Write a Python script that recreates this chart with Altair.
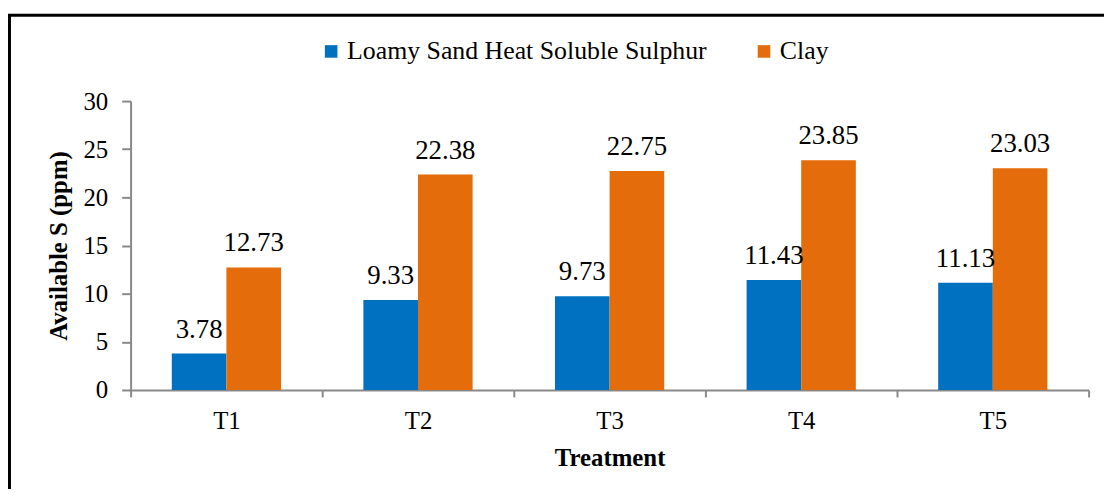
import altair as alt
import pandas as pd

treatments = ["T1", "T2", "T3", "T4", "T5"]
series_names = ["Loamy Sand Heat Soluble Sulphur", "Clay"]
loamy_sand = [3.78, 9.33, 9.73, 11.43, 11.13]
clay = [12.73, 22.38, 22.75, 23.85, 23.03]
colors = ["#0070C0", "#E46C0A"]

rows = []
for i, t in enumerate(treatments):
    rows.append({"Treatment": t, "Series": series_names[0], "Value": loamy_sand[i]})
    rows.append({"Treatment": t, "Series": series_names[1], "Value": clay[i]})
df = pd.DataFrame(rows)

FONT = "Liberation Serif, Times New Roman, serif"

x_enc = alt.X(
    "Treatment:N",
    sort=treatments,
    scale=alt.Scale(paddingInner=0, paddingOuter=0),
    axis=alt.Axis(
        title="Treatment",
        labelAngle=0,
        tickBand="extent",
        tickSize=7,
        labelPadding=12,
        titlePadding=12,
        titleFontWeight="bold",
    ),
)
xoff_enc = alt.XOffset(
    "Series:N",
    sort=series_names,
    scale=alt.Scale(paddingInner=0, paddingOuter=0.754),
)
y_enc = alt.Y(
    "Value:Q",
    scale=alt.Scale(domain=[0, 30], nice=False),
    axis=alt.Axis(
        title="Available S (ppm)",
        values=[0, 5, 10, 15, 20, 25, 30],
        tickSize=9,
        labelPadding=14,
        titlePadding=12,
        titleFontWeight="bold",
        grid=False,
    ),
)

bars = alt.Chart(df).mark_bar().encode(
    x=x_enc,
    xOffset=xoff_enc,
    y=y_enc,
    color=alt.Color(
        "Series:N",
        sort=series_names,
        scale=alt.Scale(domain=series_names, range=colors),
        legend=alt.Legend(
            title=None,
            orient="none",
            direction="horizontal",
            legendX=189,
            legendY=-63,
            symbolType="square",
            symbolSize=160,
            symbolStrokeWidth=0,
            labelFontSize=26,
            labelFont=FONT,
            labelColor="#000000",
            labelOffset=3,
            labelLimit=0,
            columnPadding=44,
        ),
    ),
)

labels = alt.Chart(df).mark_text(
    baseline="alphabetic", dy=-16, fontSize=27, font=FONT, color="#000000"
).encode(
    x=alt.X("Treatment:N", sort=treatments),
    xOffset=alt.XOffset("Series:N", sort=series_names),
    y=alt.Y("Value:Q"),
    text=alt.Text("Value:Q", format=".2f"),
)

border = alt.Chart(alt.Data(values=[{}])).mark_rect(
    fill=None, stroke="#000000", strokeWidth=3
).encode(
    x=alt.value(-122),
    x2=alt.value(1000),
    y=alt.value(-86.5),
    y2=alt.value(420),
)

chart = (
    alt.layer(border, bars, labels)
    .properties(
        width=965,
        height=291,
        autosize=alt.AutoSizeParams(type="none"),
        padding={"left": 123.5, "top": 92, "right": 15.5, "bottom": 98},
    )
    .configure(font=FONT)
    .configure_view(stroke=None)
    .configure_text(font=FONT)
    .configure_legend(labelFont=FONT)
    .configure_axis(
        labelFont=FONT,
        titleFont=FONT,
        labelFontSize=25,
        titleFontSize=25,
        labelColor="#000000",
        titleColor="#000000",
        domainColor="#898989",
        tickColor="#898989",
        domainWidth=2,
        tickWidth=2,
    )
)

chart.save("out.html", embed_options={"renderer": "svg", "actions": False})
